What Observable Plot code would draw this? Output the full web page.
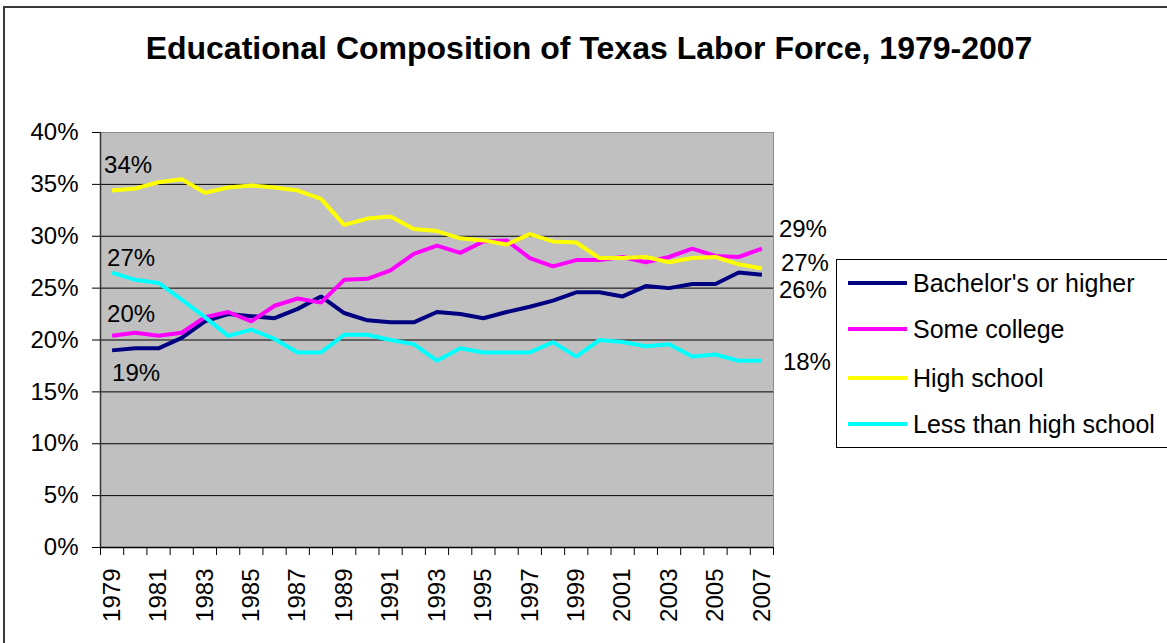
<!DOCTYPE html>
<html>
<head>
<meta charset="utf-8">
<script src="https://cdn.jsdelivr.net/npm/d3@7"></script>
<script src="https://cdn.jsdelivr.net/npm/@observablehq/plot@0.6"></script>
<style>
  html, body { margin: 0; padding: 0; background: #fff; overflow: hidden; }
  #wrap { position: relative; width: 1167px; height: 643px; font-family: "Liberation Sans", Arial, sans-serif; }
  #border { position: absolute; left: 3px; top: 6px; width: 1200px; height: 700px; border: 2px solid #3a3a3a; box-sizing: border-box; }
  #title { position: absolute; left: 0; width: 1178px; top: 29px; text-align: center; font-weight: bold; font-size: 32px; line-height: 38px; color: #000; }
  #chart { position: absolute; left: 0; top: 0; }
  #legend { position: absolute; left: 836px; top: 259px; width: 360px; height: 189px; border: 1px solid #000; background: #fff; box-sizing: border-box; }
  .item { position: absolute; left: 11px; height: 30px; display: flex; align-items: center; font-size: 25px; color: #000; white-space: nowrap; }
  .sw { width: 59px; height: 4px; margin-right: 6px; }
</style>
</head>
<body>
<div id="wrap">
  <div id="border"></div>
  <div id="chart"></div>
  <div id="title"></div>
  <div id="legend"></div>
</div>
<script>
const title = "Educational Composition of Texas Labor Force, 1979-2007";
const years = [1979,1980,1981,1982,1983,1984,1985,1986,1987,1988,1989,1990,1991,1992,1993,1994,1995,1996,1997,1998,1999,2000,2001,2002,2003,2004,2005,2006,2007];
const seriesNames = ["Bachelor's or higher", "Some college", "High school", "Less than high school"];
const seriesColors = ["#000080", "#FF00FF", "#FFFF00", "#00FFFF"];
const bachelors = [19.0,19.2,19.2,20.2,21.8,22.5,22.3,22.1,23.0,24.2,22.6,21.9,21.7,21.7,22.7,22.5,22.1,22.7,23.2,23.8,24.6,24.6,24.2,25.2,25.0,25.4,25.4,26.5,26.3];
const someCollege = [20.4,20.7,20.4,20.7,22.2,22.7,21.8,23.3,24.0,23.6,25.8,25.9,26.7,28.3,29.1,28.4,29.5,29.6,27.9,27.1,27.7,27.7,28.0,27.5,28.0,28.8,28.1,28.0,28.8];
const highSchool = [34.4,34.6,35.2,35.5,34.2,34.7,34.9,34.7,34.4,33.6,31.1,31.7,31.9,30.7,30.5,29.8,29.6,29.2,30.2,29.5,29.4,27.9,27.9,28.0,27.5,27.9,28.0,27.3,26.9];
const lessThanHS = [26.5,25.8,25.5,23.9,22.2,20.4,21.0,20.1,18.8,18.8,20.5,20.5,20.0,19.6,18.0,19.2,18.8,18.8,18.8,19.8,18.4,20.0,19.8,19.4,19.6,18.4,18.6,18.0,18.0];
const yTicks = [0,5,10,15,20,25,30,35,40];
const xTickLabels = [1979,1981,1983,1985,1987,1989,1991,1993,1995,1997,1999,2001,2003,2005,2007];

const seriesValues = [bachelors, someCollege, highSchool, lessThanHS];
const rows = [];
seriesNames.forEach((name, i) => {
  years.forEach((yr, j) => rows.push({series: name, year: yr, value: seriesValues[i][j]}));
});

// label offsets (style only)
const startOffsets = {"Bachelor's or higher": [0, 23], "Some college": [-5, -22], "High school": [-8, -25], "Less than high school": [-5, -14]};
const endOffsets = {"Bachelor's or higher": [17, 16], "Some college": [17, -19], "High school": [19, -5], "Less than high school": [21, 2]};
const startLabels = seriesNames.map((name, i) => ({series: name, year: years[0], value: seriesValues[i][0]}));
const endLabels = seriesNames.map((name, i) => ({series: name, year: years[years.length - 1], value: seriesValues[i][years.length - 1]}));
const boundaries = years.map(y => y - 0.5).concat([years[years.length - 1] + 0.5]);
const fmtPct = d => Math.round(d.value) + "%";

const labelMarks = [];
startLabels.forEach(d => {
  const [dx, dy] = startOffsets[d.series];
  labelMarks.push(Plot.text([d], {x: "year", y: "value", text: fmtPct, dx, dy, textAnchor: "start", fontSize: 24, fill: "black"}));
});
endLabels.forEach(d => {
  const [dx, dy] = endOffsets[d.series];
  labelMarks.push(Plot.text([d], {x: "year", y: "value", text: fmtPct, dx, dy, textAnchor: "start", fontSize: 24, fill: "black"}));
});

const chart = Plot.plot({
  width: 1167,
  height: 643,
  marginLeft: 100,
  marginRight: 394,
  marginTop: 132,
  marginBottom: 96,
  style: {fontFamily: '"Liberation Sans", Arial, sans-serif', background: "transparent", overflow: "visible"},
  x: {type: "linear", domain: [years[0] - 0.5, years[years.length - 1] + 0.5], axis: null, label: null},
  y: {domain: [0, 40], axis: null, label: null},
  color: {domain: seriesNames, range: seriesColors},
  marks: [
    Plot.frame({fill: "#C0C0C0", stroke: "#8a8a8a"}),
    Plot.gridY(yTicks.slice(1, -1), {stroke: "#000", strokeOpacity: 1, strokeWidth: 1}),
    Plot.axisY(yTicks, {label: null, tickFormat: d => d + "%", tickSize: 8, tickPadding: 14, fontSize: 24, stroke: "#000"}),
    Plot.axisX(boundaries, {label: null, tickFormat: () => "", tickSize: 8, stroke: "#000"}),
    Plot.axisX(xTickLabels, {label: null, tickFormat: d => String(d), tickRotate: -90, tickSize: 0, tickPadding: 21, fontSize: 24}),
    Plot.ruleX([years[0] - 0.5], {stroke: "#333", strokeWidth: 1.5}),
    Plot.ruleY([0], {stroke: "#000", strokeWidth: 1.5}),
    Plot.line(rows, {x: "year", y: "value", z: "series", stroke: "series", strokeWidth: 4, strokeLinejoin: "miter", strokeLinecap: "butt"}),
    ...labelMarks
  ]
});
document.getElementById("chart").appendChild(chart);
document.getElementById("title").textContent = title;

const legend = document.getElementById("legend");
const rowTops = [8, 54, 103, 149];
seriesNames.forEach((name, i) => {
  const item = document.createElement("div");
  item.className = "item";
  item.style.top = rowTops[i] + "px";
  const sw = document.createElement("div");
  sw.className = "sw";
  sw.style.background = seriesColors[i];
  const label = document.createElement("span");
  label.textContent = name;
  item.appendChild(sw);
  item.appendChild(label);
  legend.appendChild(item);
});
</script>
</body>
</html>
